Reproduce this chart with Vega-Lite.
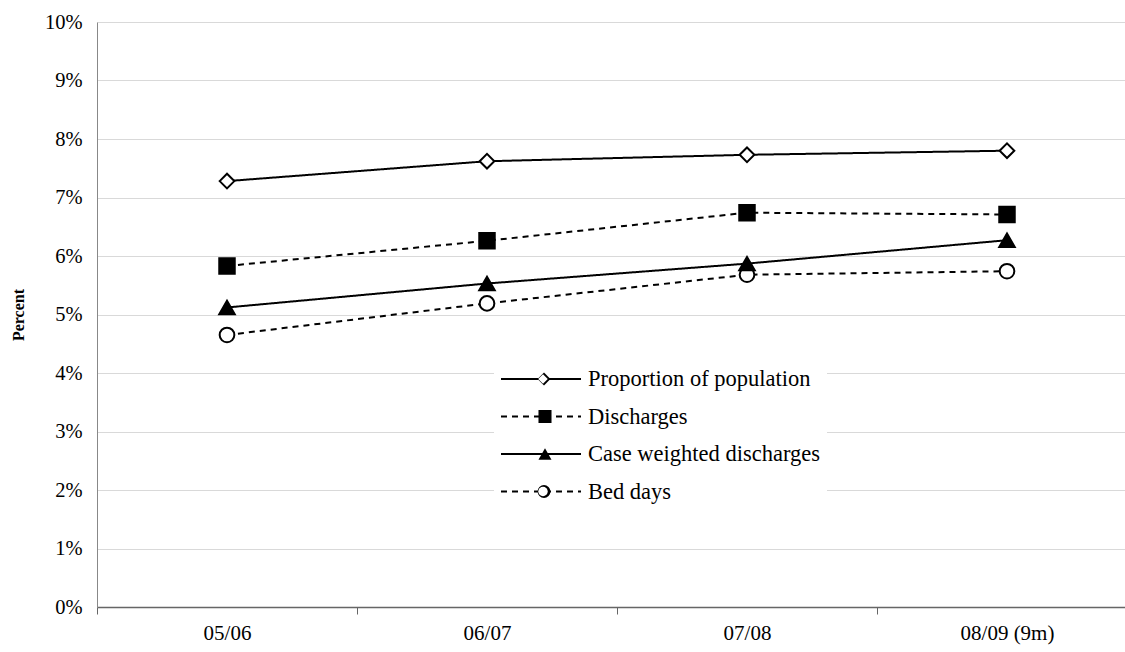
{
  "$schema": "https://vega.github.io/schema/vega-lite/v6.json",
  "width": 1028,
  "height": 585,
  "autosize": "none",
  "padding": {"left": 97, "top": 22, "right": 0, "bottom": 45},
  "background": "white",
  "config": {"font": "Liberation Serif", "view": {"stroke": null}},
  "data": {
    "values": [
      {"year": "05/06", "series": "Proportion of population", "value": 7.28},
      {"year": "06/07", "series": "Proportion of population", "value": 7.62},
      {"year": "07/08", "series": "Proportion of population", "value": 7.73},
      {"year": "08/09 (9m)", "series": "Proportion of population", "value": 7.8},
      {"year": "05/06", "series": "Discharges", "value": 5.83},
      {"year": "06/07", "series": "Discharges", "value": 6.26},
      {"year": "07/08", "series": "Discharges", "value": 6.74},
      {"year": "08/09 (9m)", "series": "Discharges", "value": 6.71},
      {"year": "05/06", "series": "Case weighted discharges", "value": 5.12},
      {"year": "06/07", "series": "Case weighted discharges", "value": 5.53},
      {"year": "07/08", "series": "Case weighted discharges", "value": 5.87},
      {"year": "08/09 (9m)", "series": "Case weighted discharges", "value": 6.27},
      {"year": "05/06", "series": "Bed days", "value": 4.65},
      {"year": "06/07", "series": "Bed days", "value": 5.19},
      {"year": "07/08", "series": "Bed days", "value": 5.68},
      {"year": "08/09 (9m)", "series": "Bed days", "value": 5.74}
    ]
  },
  "encoding": {
    "x": {
      "field": "year",
      "type": "nominal",
      "sort": null,
      "scale": {"type": "band", "range": [0, 1040], "paddingInner": 0, "paddingOuter": 0},
      "axis": {
        "title": null,
        "labelAngle": 0,
        "tickBand": "extent",
        "ticks": true,
        "tickSize": 7,
        "tickColor": "#666666",
        "domainColor": "#666666",
        "domainWidth": 1.5,
        "labelPadding": 8,
        "labelFontSize": 21,
        "labelColor": "black",
        "grid": false
      }
    },
    "y": {
      "field": "value",
      "type": "quantitative",
      "scale": {"domain": [0, 10]},
      "axis": {
        "values": [0, 1, 2, 3, 4, 5, 6, 7, 8, 9, 10],
        "labelExpr": "datum.value + '%'",
        "ticks": false,
        "labelPadding": 15,
        "labelFontSize": 20.5,
        "labelColor": "black",
        "gridColor": "#d9d9d9",
        "domainColor": "#888888",
        "title": "Percent",
        "titleFontWeight": "bold",
        "titleFontSize": 16,
        "titleColor": "black",
        "titlePadding": 18
      }
    }
  },
  "resolve": {"scale": {"shape": "independent"}, "legend": {"shape": "independent"}},
  "layer": [
    {
      "mark": {"type": "line", "color": "black", "strokeWidth": 2},
      "encoding": {
        "strokeDash": {
          "field": "series",
          "type": "nominal",
          "scale": {
            "domain": ["Proportion of population", "Discharges", "Case weighted discharges", "Bed days"],
            "range": [[1, 0], [6, 5], [1, 0], [6, 5]]
          },
          "legend": {
            "orient": "none",
            "legendX": 397,
            "legendY": 338,
            "title": null,
            "symbolType": "stroke",
            "symbolSize": 6400,
            "symbolStrokeColor": "black",
            "symbolStrokeWidth": 2,
            "fillColor": "white",
            "padding": 6,
            "labelFontSize": 22.5,
            "labelColor": "black",
            "labelOffset": 6,
            "labelLimit": 400,
            "clipHeight": 26,
            "rowPadding": 11.5
          }
        }
      }
    },
    {
      "transform": [{"filter": {"field": "series", "oneOf": ["Proportion of population", "Bed days"]}}],
      "mark": {"type": "point", "filled": true, "fill": "black", "stroke": "black", "strokeWidth": 1, "opacity": 1, "size": 180},
      "encoding": {
        "shape": {
          "field": "series",
          "type": "nominal",
          "scale": {"domain": ["Proportion of population", "Bed days"], "range": ["diamond", "circle"]},
          "legend": {
            "orient": "none",
            "legendX": 440,
            "legendY": 344,
            "title": null,
            "symbolSize": 165,
            "symbolFillColor": "black",
            "symbolStrokeColor": "black",
            "symbolStrokeWidth": 1,
            "symbolOpacity": 1,
            "padding": 0,
            "labelExpr": "''",
            "labelOffset": 0,
            "clipHeight": 26,
            "rowPadding": 86.5
          }
        }
      }
    },
    {
      "transform": [{"filter": {"field": "series", "oneOf": ["Proportion of population", "Bed days"]}}],
      "mark": {"type": "point", "filled": false, "fill": "white", "stroke": "black", "strokeWidth": 2, "opacity": 1, "size": 215},
      "encoding": {
        "shape": {
          "field": "series",
          "type": "nominal",
          "scale": {"domain": ["Proportion of population", "Bed days"], "range": ["diamond", "circle"]},
          "legend": {
            "orient": "none",
            "legendX": 440,
            "legendY": 344,
            "title": null,
            "symbolSize": 90,
            "symbolFillColor": "white",
            "symbolStrokeColor": "black",
            "symbolStrokeWidth": 2,
            "symbolOpacity": 1,
            "padding": 0,
            "labelExpr": "''",
            "labelOffset": 0,
            "clipHeight": 26,
            "rowPadding": 86.5
          }
        }
      }
    },
    {
      "transform": [{"filter": {"field": "series", "oneOf": ["Discharges", "Case weighted discharges"]}}],
      "mark": {"type": "point", "filled": true, "fill": "black", "stroke": "black", "strokeWidth": 2, "opacity": 1, "size": 240},
      "encoding": {
        "shape": {
          "field": "series",
          "type": "nominal",
          "scale": {"domain": ["Discharges", "Case weighted discharges"], "range": ["square", "triangle-up"]},
          "legend": {
            "orient": "none",
            "legendX": 440,
            "legendY": 381.5,
            "title": null,
            "symbolSize": 170,
            "symbolFillColor": "black",
            "symbolStrokeColor": "black",
            "symbolStrokeWidth": 2,
            "symbolOpacity": 1,
            "padding": 0,
            "labelExpr": "''",
            "labelOffset": 0,
            "clipHeight": 26,
            "rowPadding": 11.5
          }
        }
      }
    }
  ]
}
